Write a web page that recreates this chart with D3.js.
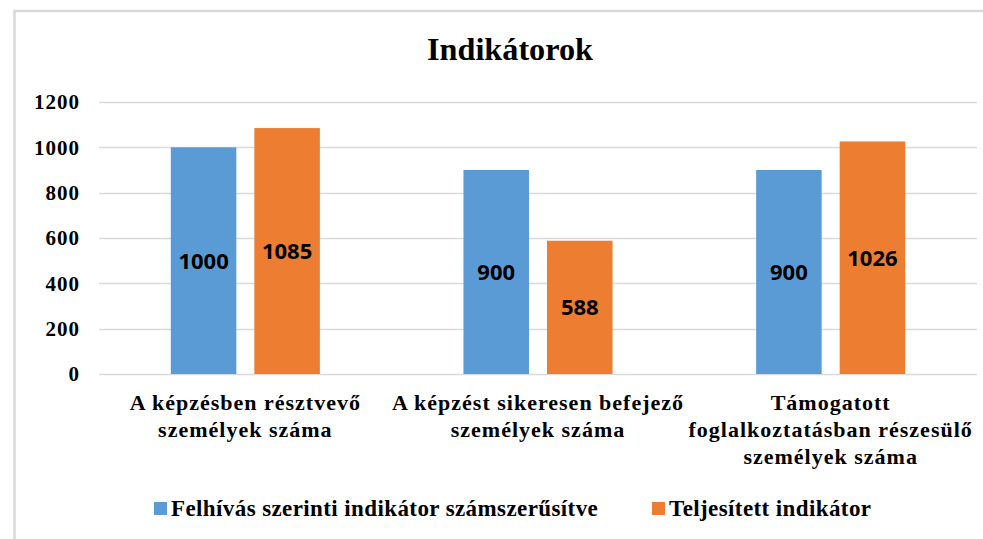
<!DOCTYPE html>
<html>
<head>
<meta charset="utf-8">
<script src="https://cdnjs.cloudflare.com/ajax/libs/d3/7.8.5/d3.min.js"></script>
<style>
  body { margin: 0; background: #fff; }
  svg { display: block; }
</style>
</head>
<body>
<div id="chart"></div>
<script>
// chart values
var categories = [
	["A képzésben résztvevő", "személyek száma"],
	["A képzést sikeresen befejező", "személyek száma"],
	["Támogatott", "foglalkoztatásban részesülő", "személyek száma"]
];
var seriesNames = ["Felhívás szerinti indikátor számszerűsítve", "Teljesített indikátor"];
var seriesColors = ["#5b9bd5", "#ed7d31"];
var planned = [1000, 900, 900];
var achieved = [1085, 588, 1026];
var yTicks = [0, 200, 400, 600, 800, 1000, 1200];

var width = 983, height = 539;
var plotLeft = 99, plotRight = 977, plotTop = 102, plotBottom = 374;

var svg = d3.select("#chart")
	.append("svg")
	.attr("width", width)
	.attr("height", height);

svg.append("rect")
	.attr("width", width).attr("height", height)
	.style("fill", "#fff");

// light frame, only the top and left edges are inside the picture
svg.append("rect")
	.attr("x", 14.5).attr("y", 11)
	.attr("width", 1200).attr("height", 800)
	.style("fill", "none")
	.style("stroke", "#d9d9d9")
	.style("stroke-width", 2.5);

var y = d3.scaleLinear().domain([0, 1200]).range([plotBottom, plotTop]);

var x0 = d3.scaleBand()
	.domain(d3.range(categories.length))
	.range([plotLeft, plotRight])
	.padding(0);

var inset = 71.8;
var x1 = d3.scaleBand()
	.domain([0, 1])
	.range([inset, x0.bandwidth() - inset])
	.paddingInner(0.2156);

// gridlines
svg.append("g")
	.selectAll("line")
	.data(yTicks)
	.enter().append("line")
	.attr("x1", plotLeft).attr("x2", plotRight)
	.attr("y1", function(d) { return Math.round(y(d)) + 0.5; })
	.attr("y2", function(d) { return Math.round(y(d)) + 0.5; })
	.style("stroke", "#d9d9d9")
	.style("stroke-width", 1.3);

// y axis labels
var yAxis = d3.axisLeft(y).tickValues(yTicks).tickFormat(d3.format("d")).tickSize(0).tickPadding(0);
var yg = svg.append("g")
	.attr("transform", "translate(80,0)")
	.call(yAxis);
yg.select(".domain").remove();
yg.selectAll("text")
	.style("font-family", "'Liberation Serif', 'Times New Roman', serif")
	.style("font-weight", "bold")
	.style("font-size", "21px")
	.style("letter-spacing", "1px")
	.style("fill", "#000");

// bars
var groups = svg.append("g")
	.selectAll("g")
	.data(categories.map(function(c, i) { return [planned[i], achieved[i]]; }))
	.enter().append("g")
	.attr("transform", function(d, i) { return "translate(" + x0(i) + ",0)"; });

groups.selectAll("rect")
	.data(function(d) { return d; })
	.enter().append("rect")
	.attr("x", function(d, j) { return x1(j); })
	.attr("y", function(d) { return y(d); })
	.attr("width", x1.bandwidth())
	.attr("height", function(d) { return y(0) - y(d); })
	.style("fill", function(d, j) { return seriesColors[j]; });

groups.selectAll("text")
	.data(function(d) { return d; })
	.enter().append("text")
	.attr("x", function(d, j) { return x1(j) + x1.bandwidth() / 2; })
	.attr("y", function(d) { return (y(d) + y(0)) / 2; })
	.attr("dy", "0.36em")
	.attr("text-anchor", "middle")
	.style("font-family", "'Open Sans', sans-serif")
	.style("font-weight", "bold")
	.style("font-size", "22px")
	.style("fill", "#000")
	.text(function(d) { return d; });

// category labels
var catLabels = svg.append("g")
	.selectAll("text")
	.data(categories)
	.enter().append("text")
	.attr("x", function(d, i) { return x0(i) + x0.bandwidth() / 2; })
	.attr("y", 410)
	.attr("text-anchor", "middle")
	.style("font-family", "'Liberation Serif', 'Times New Roman', serif")
	.style("font-weight", "bold")
	.style("font-size", "22px")
	.style("letter-spacing", "1px")
	.style("fill", "#000");

catLabels.selectAll("tspan")
	.data(function(d) { return d; })
	.enter().append("tspan")
	.attr("x", function() { return d3.select(this.parentNode).attr("x"); })
	.attr("dy", function(d, k) { return k === 0 ? 0 : 27; })
	.text(function(d) { return d; });

// title
svg.append("text")
	.attr("x", 510)
	.attr("y", 60)
	.attr("text-anchor", "middle")
	.attr("textLength", 166)
	.attr("lengthAdjust", "spacingAndGlyphs")
	.style("font-family", "'Liberation Serif', 'Times New Roman', serif")
	.style("font-weight", "bold")
	.style("font-size", "31px")
	.style("fill", "#000")
	.text("Indikátorok");

// legend
var legendX = [154, 652];
var legend = svg.append("g")
	.selectAll("g")
	.data(seriesNames)
	.enter().append("g")
	.attr("transform", function(d, i) { return "translate(" + legendX[i] + ",502)"; });

legend.append("rect")
	.attr("width", 13).attr("height", 13)
	.style("fill", function(d, i) { return seriesColors[i]; });

legend.append("text")
	.attr("x", 17)
	.attr("y", 14)
	.style("font-family", "'Liberation Serif', 'Times New Roman', serif")
	.style("font-weight", "bold")
	.style("font-size", "23px")
	.style("letter-spacing", "0.4px")
	.style("fill", "#000")
	.text(function(d) { return d; });
</script>
</body>
</html>
